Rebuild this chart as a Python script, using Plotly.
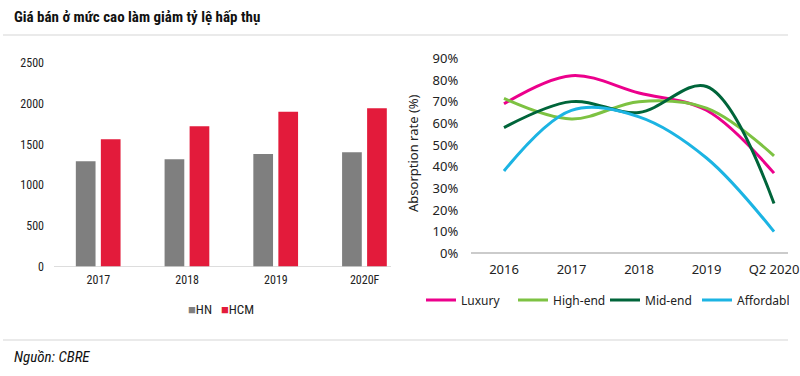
import plotly.graph_objects as go

# ---------------- data ----------------
years_left = ["2017", "2018", "2019", "2020F"]
hn_price = [1292, 1316, 1381, 1402]
hcm_price = [1561, 1720, 1900, 1941]
left_yticks = [0, 500, 1000, 1500, 2000, 2500]

periods = ["2016", "2017", "2018", "2019", "Q2 2020"]
luxury = [0.69, 0.82, 0.74, 0.66, 0.37]
high_end = [0.715, 0.62, 0.70, 0.67, 0.45]
mid_end = [0.58, 0.70, 0.65, 0.77, 0.23]
affordable = [0.38, 0.66, 0.63, 0.44, 0.10]
right_yticks = [0, 0.1, 0.2, 0.3, 0.4, 0.5, 0.6, 0.7, 0.8, 0.9]

W, H = 800, 376
def px(x): return x / W
def py(y): return (H - y) / H

NARROW = "Liberation Sans Narrow, Roboto Condensed, Arial Narrow, sans-serif"
GOTHIC = "Noto Sans, Lato, sans-serif"

HN_COL, HCM_COL = "#7f7f7f", "#e31b3b"

fig = go.Figure()

fig.add_trace(go.Bar(x=years_left, y=hn_price, name="HN", marker=dict(color=HN_COL, line=dict(width=0)),
                     width=0.222, offset=-0.254, xaxis="x", yaxis="y", showlegend=False))
fig.add_trace(go.Bar(x=years_left, y=hcm_price, name="HCM", marker=dict(color=HCM_COL, line=dict(width=0)),
                     width=0.222, offset=0.028, xaxis="x", yaxis="y", showlegend=False))

series = [("Luxury", luxury, "#ec008c"), ("High-end", high_end, "#7dc242"),
          ("Mid-end", mid_end, "#00653a"), ("Affordable", affordable, "#1cb4e3")]
for name, vals, col in series:
    fig.add_trace(go.Scatter(x=periods, y=vals, name=name, mode="lines",
                             line=dict(color=col, width=3, shape="spline", smoothing=1),
                             xaxis="x2", yaxis="y2"))

fig.update_layout(
    template="none",
    width=W, height=H, margin=dict(l=0, r=0, t=0, b=0, autoexpand=False),
    paper_bgcolor="white", plot_bgcolor="rgba(0,0,0,0)",
    barmode="overlay", showlegend=True,
    xaxis=dict(type="category", domain=[px(54), px(409)], range=[-0.5, 3.5], showline=False,
               showgrid=False, zeroline=False, ticks="", automargin=False,
               tickfont=dict(family=NARROW, size=12, color="#222"), ticklabelstandoff=4),
    yaxis=dict(domain=[py(266.7), py(62.7)], range=[0, 2500], tickvals=left_yticks,
               showgrid=False, zeroline=False, showline=False, ticks="", automargin=False,
               tickfont=dict(family=NARROW, size=12, color="#222"), ticklabelstandoff=9),
    xaxis2=dict(type="category", domain=[px(470.25), 1.0], range=[-0.5, 4.385], anchor="y2",
                showline=False, showgrid=False, zeroline=False, ticks="", automargin=False,
                tickfont=dict(family=GOTHIC, size=13, color="#222"), ticklabelstandoff=7),
    yaxis2=dict(domain=[py(253.3), py(58.3)], range=[0, 0.9], anchor="x2", tickvals=right_yticks,
                tickformat=".0%", showgrid=False, zeroline=False, showline=False, ticks="",
                automargin=False,
                tickfont=dict(family=GOTHIC, size=13, color="#222"), ticklabelstandoff=11),
    legend=dict(orientation="h", x=px(421), xanchor="left", y=py(300), yanchor="middle",
                font=dict(family=GOTHIC, size=12, color="#222"), itemwidth=30,
                entrywidth=47, entrywidthmode="pixels",
                bgcolor="rgba(0,0,0,0)", tracegroupgap=0),
)

# title, source, y-axis title and the bar legend
fig.add_annotation(text="<b>Giá bán ở mức cao làm giảm tỷ lệ hấp thụ</b>", x=px(12), y=py(17),
                   xref="paper", yref="paper", xanchor="left", yanchor="middle", showarrow=False,
                   font=dict(family=NARROW, size=15, color="#111"))
fig.add_annotation(text="<i>Nguồn: CBRE</i>", x=px(12), y=py(357), xref="paper", yref="paper",
                   xanchor="left", yanchor="middle", showarrow=False,
                   font=dict(family=NARROW, size=15, color="#111"))
fig.add_annotation(text="Absorption rate (%)", x=px(413), y=py(153), xref="paper", yref="paper",
                   xanchor="center", yanchor="middle", textangle=-90, showarrow=False,
                   font=dict(family=GOTHIC, size=13, color="#222"))
NB = "\u00a0"
fig.add_annotation(text=(f'<span style="color:{HN_COL}">■</span>HN{NB*3}'
                         f'<span style="color:{HCM_COL}">■</span>HCM'),
                   x=px(221), y=py(309), xref="paper", yref="paper", xanchor="center",
                   yanchor="middle", showarrow=False,
                   font=dict(family=NARROW, size=13, color="#222"))

# separators and axis baselines
shapes = [
    dict(type="line", xref="paper", yref="paper", x0=px(3), x1=px(788), y0=py(35), y1=py(35),
         line=dict(color="#e3e3e3", width=1.5)),
    dict(type="line", xref="paper", yref="paper", x0=px(3), x1=px(788), y0=py(340), y1=py(340),
         line=dict(color="#e3e3e3", width=1.5)),
    dict(type="line", xref="paper", yref="y", x0=px(54), x1=px(391), y0=0, y1=0,
         line=dict(color="#c8c8c8", width=1)),
    dict(type="line", xref="paper", yref="y2", x0=px(471), x1=px(788), y0=0, y1=0,
         line=dict(color="#333333", width=1.2)),
]
fig.update_layout(shapes=shapes)

fig.write_html("out.html", config={"displayModeBar": False},
               post_script="document.body.style.margin='0';document.body.style.overflow='hidden';")
